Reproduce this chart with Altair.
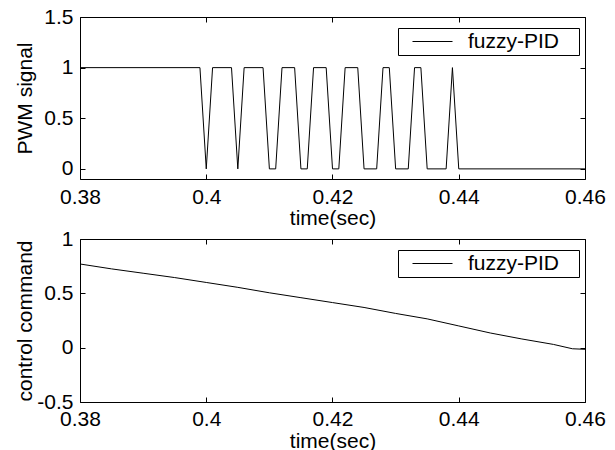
import altair as alt
import pandas as pd

# ---- data ----
pwm_time = [0.380, 0.399, 0.400, 0.401, 0.404, 0.405, 0.406, 0.409, 0.410, 0.411,
            0.412, 0.414, 0.415, 0.416, 0.417, 0.419, 0.420, 0.421, 0.422, 0.424,
            0.425, 0.427, 0.428, 0.429, 0.430, 0.432, 0.433, 0.434, 0.435, 0.438,
            0.439, 0.440, 0.460]
pwm_value = [1, 1, 0, 1, 1, 0, 1, 1, 0, 0,
             1, 1, 0, 0, 1, 1, 0, 0, 1, 1,
             0, 0, 1, 1, 0, 0, 1, 1, 0, 0,
             1, 0, 0]

cmd_time = [0.380, 0.385, 0.390, 0.395, 0.400, 0.405, 0.410, 0.415, 0.420,
            0.425, 0.430, 0.435, 0.440, 0.445, 0.450, 0.455, 0.458, 0.460]
cmd_value = [0.77, 0.725, 0.685, 0.645, 0.60, 0.555, 0.505, 0.46, 0.415,
             0.37, 0.315, 0.265, 0.20, 0.135, 0.08, 0.03, -0.01, -0.015]

series_name = "fuzzy-PID"
x_ticks = [0.38, 0.40, 0.42, 0.44, 0.46]
top_y_ticks = [0, 0.5, 1, 1.5]
bot_y_ticks = [-0.5, 0, 0.5, 1]
top_y_domain = [-0.1, 1.5]
bot_y_domain = [-0.5, 1.0]
x_domain = [0.38, 0.46]

FONT = "Liberation Sans"
FS = 21
W = 505
LABEL_EXPR = "datum.value < 0 ? '-' + format(-datum.value, '~g') : format(datum.value, '~g')"
# legend sample line (drawn part) plus an undrawn move that widens the legend box
LEGEND_SYMBOL = "M-2,0H2M14.1,0"

pwm_df = pd.DataFrame({"t": pwm_time, "v": pwm_value, "s": series_name})
cmd_df = pd.DataFrame({"t": cmd_time, "v": cmd_value, "s": series_name})


def tick_axis(orient, values):
    return alt.Axis(orient=orient, offset=-5, tickSize=5, ticks=True, labels=False,
                    domain=False, grid=False, title=None, values=values,
                    tickColor="black", tickWidth=1)


def panel(df, y_domain, y_ticks, y_title, h, x_label_pad, x_title_y):
    xs = alt.Scale(domain=x_domain, nice=False, zero=False)
    ys = alt.Scale(domain=y_domain, nice=False, zero=False)
    main = alt.Chart(df).mark_line(strokeWidth=1, color="black").encode(
        x=alt.X("t:Q", scale=xs, axis=alt.Axis(
            orient="bottom", values=x_ticks, labelExpr=LABEL_EXPR, ticks=False, tickSize=0,
            domain=False, grid=False, labelPadding=x_label_pad, labelFlush=False,
            labelOverlap=False, labelFont=FONT, labelFontSize=FS, labelColor="black",
            title="time(sec)", titleFont=FONT, titleFontSize=FS, titleFontWeight="normal",
            titleColor="black", titleX=W / 2, titleY=x_title_y, titleAlign="center",
            titleBaseline="alphabetic")),
        y=alt.Y("v:Q", scale=ys, axis=alt.Axis(
            orient="left", values=y_ticks, labelExpr=LABEL_EXPR, ticks=False, tickSize=0,
            domain=False, grid=False, labelPadding=7, labelFlush=False, labelOverlap=False,
            labelFont=FONT, labelFontSize=FS, labelColor="black",
            title=y_title, titleFont=FONT, titleFontSize=FS, titleFontWeight="normal",
            titleColor="black", titleX=-49, titleY=h / 2, titleAngle=270,
            titleAlign="center", titleBaseline="alphabetic")),
        color=alt.Color("s:N", scale=alt.Scale(range=["black"]), legend=alt.Legend(
            orient="none", legendX=318, legendY=11, title=None,
            symbolType=LEGEND_SYMBOL, symbolSize=400, symbolStrokeWidth=1,
            symbolStrokeColor="black", symbolFillColor="transparent",
            symbolOffset=21, labelOffset=25,
            labelFont=FONT, labelFontSize=FS, labelColor="black",
            strokeColor="black", fillColor="white", padding=3, cornerRadius=0)),
    )
    ticks_a = alt.Chart(df).mark_line(opacity=0).encode(
        x=alt.X("t:Q", scale=xs, axis=tick_axis("bottom", x_ticks)),
        y=alt.Y("v:Q", scale=ys, axis=tick_axis("left", y_ticks)),
    )
    ticks_b = alt.Chart(df).mark_line(opacity=0).encode(
        x=alt.X("t:Q", scale=xs, axis=tick_axis("top", x_ticks)),
        y=alt.Y("v:Q", scale=ys, axis=tick_axis("right", y_ticks)),
    )
    return alt.layer(main, ticks_a, ticks_b).resolve_axis(
        x="independent", y="independent").properties(width=W, height=h)


top = panel(pwm_df, top_y_domain, top_y_ticks, "PWM signal", 162, 7, 45)
bottom = panel(cmd_df, bot_y_domain, bot_y_ticks, "control command", 163, 6, 45)

chart = alt.vconcat(top, bottom, spacing=60, bounds="flush").resolve_scale(
    color="independent").resolve_legend(color="independent").properties(
    padding={"left": 13, "top": 5, "right": 5, "bottom": 5},
    background="white",
).configure_view(stroke="black", strokeWidth=1)

chart.save("out.html", embed_options={"renderer": "svg", "actions": False})
